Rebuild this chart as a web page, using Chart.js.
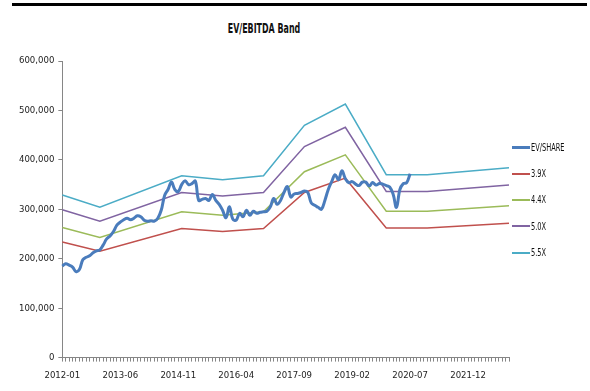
<!DOCTYPE html>
<html lang="en">
<head>
    <meta charset="UTF-8">
    <title>EV/EBITDA Band</title>
    <script src="https://cdn.jsdelivr.net/npm/chart.js"></script>
    <style>
        body { margin: 0; background: #fff; }
        #wrap { position: relative; width: 590px; height: 391px; overflow: hidden; }
        #topbar { position: absolute; left: 12px; top: 3px; width: 575px; height: 3px; background: #000; }
        #title {
            position: absolute; left: 0; top: 21px; width: 528px; text-align: center;
            font: bold 14px/14px 'DejaVu Sans Condensed', 'DejaVu Sans', sans-serif;
            color: #111; transform: scaleX(0.63);
        }
        #legend { position: absolute; left: 512px; top: 134px; }
        #legend .item { display: flex; align-items: center; height: 26.4px; }
        #legend .swatch { width: 18px; height: 0; }
        #legend .txt {
            font: 11px 'DejaVu Sans Condensed', 'DejaVu Sans', sans-serif;
            color: #111; transform: scaleX(0.67); transform-origin: left center; margin-left: 1px;
        }
        canvas { position: absolute; left: 0; top: 0; }
    </style>
</head>
<body>
    <div id="wrap">
        <div id="topbar"></div>
        <div id="title">EV/EBITDA Band</div>
        <canvas id="myChart" width="590" height="391"></canvas>
        <div id="legend"></div>
    </div>

<script>
    // monthly category axis, 2012-01 .. 2022-12
    const firstMonth = '2012-01';
    const lastMonth = '2022-12';
    const tickLabels = ['2012-01', '2013-06', '2014-11', '2016-04', '2017-09', '2019-02', '2020-07', '2021-12'];

    // EV per share, monthly from 2012-01
    const evShare = [
        185000, 190000, 187000, 183000, 174000, 178000, 198000, 203000, 206000, 212000, 216000, 218000,
        228000, 240000, 246000, 255000, 268000, 274000, 279000, 282000, 279000, 282000, 287000, 285000,
        278000, 276000, 277000, 276000, 282000, 298000, 328000, 340000, 355000, 340000, 336000, 350000,
        358000, 350000, 352000, 357000, 318000, 320000, 322000, 318000, 330000, 318000, 310000, 298000,
        283000, 305000, 280000, 278000, 292000, 285000, 298000, 288000, 296000, 292000, 294000, 295000,
        296000, 305000, 322000, 310000, 318000, 334000, 346000, 325000, 331000, 332000, 334000, 337000,
        334000, 313000, 308000, 304000, 300000, 318000, 340000, 356000, 370000, 360000, 378000, 362000,
        354000, 356000, 351000, 348000, 355000, 355000, 347000, 354000, 349000, 352000, 351000, 348000,
        345000, 331000, 304000, 340000, 352000, 354000, 372000
    ];

    // band values at each EBITDA reporting point
    const bandDates = ['2012-01', '2012-12', '2014-12', '2015-12', '2016-12', '2017-12', '2018-12', '2019-12', '2020-12', '2022-12'];
    const band39 = [234000, 215000, 261000, 255000, 261000, 334000, 363000, 262000, 262000, 272000];
    const band44 = [263000, 243000, 295000, 288000, 295000, 376000, 410000, 296000, 296000, 307000];
    const band50 = [299000, 276000, 334000, 327000, 334000, 427000, 466000, 336000, 336000, 349000];
    const band55 = [329000, 304000, 368000, 360000, 368000, 470000, 513000, 370000, 370000, 384000];

    function monthList(from, to) {
        var out = [];
        var y = +from.slice(0, 4), m = +from.slice(5, 7);
        var ey = +to.slice(0, 4), em = +to.slice(5, 7);
        while (y < ey || (y === ey && m <= em)) {
            out.push(y + '-' + String(m).padStart(2, '0'));
            m++;
            if (m > 12) { m = 1; y++; }
        }
        return out;
    }

    const months = monthList(firstMonth, lastMonth);

    function band(values) {
        return bandDates.map((d, i) => ({ x: d, y: values[i] }));
    }

    const htmlLegend = {
        id: 'htmlLegend',
        afterUpdate(chart) {
            const box = document.getElementById('legend');
            box.innerHTML = '';
            chart.data.datasets.forEach(ds => {
                const item = document.createElement('div');
                item.className = 'item';
                const sw = document.createElement('span');
                sw.className = 'swatch';
                sw.style.borderTop = Math.max(2, ds.borderWidth) + 'px solid ' + ds.borderColor;
                const txt = document.createElement('span');
                txt.className = 'txt';
                txt.textContent = ds.label;
                item.appendChild(sw);
                item.appendChild(txt);
                box.appendChild(item);
            });
        }
    };

    Chart.defaults.font.family = "'DejaVu Sans Condensed', 'DejaVu Sans', sans-serif";
    Chart.defaults.font.size = 9.5;
    Chart.defaults.color = '#222';

    const ctx = document.getElementById('myChart');

    new Chart(ctx, {
        type: 'line',
        data: {
            labels: months,
            datasets: [
                { label: 'EV/SHARE', data: evShare, borderColor: '#4A7CBC', borderWidth: 3, tension: 0.4 },
                { label: '3.9X', data: band(band39), borderColor: '#C0504D', borderWidth: 1.5 },
                { label: '4.4X', data: band(band44), borderColor: '#9BBB59', borderWidth: 1.5 },
                { label: '5.0X', data: band(band50), borderColor: '#8064A2', borderWidth: 1.5 },
                { label: '5.5X', data: band(band55), borderColor: '#4BACC6', borderWidth: 1.5 }
            ]
        },
        options: {
            responsive: false,
            animation: false,
            devicePixelRatio: 1,
            elements: { point: { radius: 0 } },
            layout: { padding: { left: 15, right: 81, top: 61, bottom: 2 } },
            plugins: {
                legend: { display: false },
                tooltip: { enabled: false }
            },
            scales: {
                x: {
                    grid: { drawOnChartArea: false, tickLength: 4, color: '#868686' },
                    border: { color: '#868686' },
                    ticks: {
                        autoSkip: false,
                        maxRotation: 0,
                        minRotation: 0,
                        padding: 8,
                        callback: function (value) {
                            const lbl = this.getLabelForValue(value);
                            return tickLabels.includes(lbl) ? lbl : '';
                        }
                    }
                },
                y: {
                    min: 0,
                    max: 600000,
                    grid: { drawOnChartArea: false, tickLength: 4, color: '#868686' },
                    border: { color: '#868686' },
                    ticks: {
                        stepSize: 100000,
                        padding: 4,
                        callback: v => v.toLocaleString('en-US')
                    }
                }
            }
        },
        plugins: [htmlLegend]
    });
</script>
</body>
</html>
